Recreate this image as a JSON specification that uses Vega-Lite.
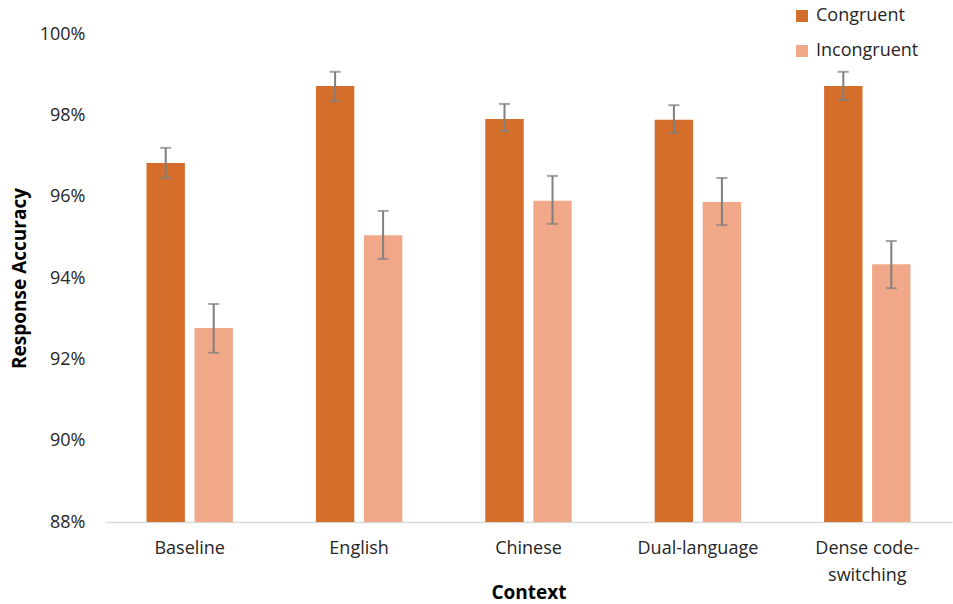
{
  "$schema": "https://vega.github.io/schema/vega-lite/v6.json",
  "width": 847,
  "height": 488,
  "autosize": "none",
  "padding": {"left": 105, "top": 34, "right": 1, "bottom": 82},
  "background": "white",
  "config": {
    "view": {"stroke": null},
    "font": "Open Sans",
    "axis": {"labelFont": "Open Sans", "titleFont": "Open Sans", "labelColor": "#262626", "titleColor": "#000000"}
  },
  "data": {
    "values": [
      {"context": "Baseline", "condition": "Congruent", "acc": 96.83, "lo": 96.46, "hi": 97.2},
      {"context": "Baseline", "condition": "Incongruent", "acc": 92.77, "lo": 92.16, "hi": 93.36},
      {"context": "English", "condition": "Congruent", "acc": 98.72, "lo": 98.35, "hi": 99.07},
      {"context": "English", "condition": "Incongruent", "acc": 95.05, "lo": 94.47, "hi": 95.65},
      {"context": "Chinese", "condition": "Congruent", "acc": 97.91, "lo": 97.61, "hi": 98.28},
      {"context": "Chinese", "condition": "Incongruent", "acc": 95.9, "lo": 95.33, "hi": 96.51},
      {"context": "Dual-language", "condition": "Congruent", "acc": 97.89, "lo": 97.57, "hi": 98.25},
      {"context": "Dual-language", "condition": "Incongruent", "acc": 95.87, "lo": 95.3, "hi": 96.46},
      {"context": "Dense code-switching", "condition": "Congruent", "acc": 98.72, "lo": 98.38, "hi": 99.07},
      {"context": "Dense code-switching", "condition": "Incongruent", "acc": 94.34, "lo": 93.75, "hi": 94.91}
    ]
  },
  "encoding": {
    "x": {
      "field": "context",
      "type": "nominal",
      "sort": null,
      "scale": {"paddingInner": 0.49, "paddingOuter": 0.245},
      "axis": {
        "title": "Context",
        "titleFontSize": 19,
        "titleFontWeight": "bold",
        "titleBaseline": "middle",
        "titleY": 70,
        "labelFontSize": 18,
        "labelAngle": 0,
        "labelPadding": 17,
        "labelLineHeight": 27,
        "labelExpr": "datum.label == 'Dense code-switching' ? ['Dense code-', 'switching'] : datum.label",
        "ticks": false,
        "domainColor": "#d9d9d9",
        "domainWidth": 1.5
      }
    },
    "xOffset": {"field": "condition", "type": "nominal", "scale": {"paddingInner": 0.2, "paddingOuter": 0}}
  },
  "layer": [
    {
      "mark": {"type": "bar"},
      "encoding": {
        "y": {
          "field": "acc",
          "type": "quantitative",
          "scale": {"domain": [88, 100], "zero": false, "nice": false},
          "axis": {
            "title": "Response Accuracy",
            "titleFontSize": 19,
            "titleFontWeight": "bold",
            "titlePadding": 10,
            "labelFontSize": 18,
            "labelPadding": 20,
            "values": [88, 90, 92, 94, 96, 98, 100],
            "labelExpr": "datum.value + '%'",
            "ticks": false,
            "domain": false,
            "grid": false
          }
        },
        "y2": {"datum": 88},
        "color": {
          "field": "condition",
          "type": "nominal",
          "scale": {"domain": ["Congruent", "Incongruent"], "range": ["#D46E2A", "#F1A889"]},
          "legend": {
            "title": null,
            "orient": "none",
            "legendX": 688,
            "legendY": -27,
            "symbolType": "square",
            "symbolSize": 144,
            "symbolStrokeWidth": 0,
            "labelFontSize": 18,
            "labelColor": "#262626",
            "labelOffset": 5,
            "rowPadding": 17
          }
        }
      }
    },
    {
      "mark": {"type": "rule", "color": "#7f7f7f", "strokeWidth": 2},
      "encoding": {
        "y": {"field": "lo", "type": "quantitative"},
        "y2": {"field": "hi"}
      }
    },
    {
      "mark": {"type": "tick", "color": "#7f7f7f", "thickness": 2, "size": 11},
      "encoding": {
        "y": {"field": "lo", "type": "quantitative"}
      }
    },
    {
      "mark": {"type": "tick", "color": "#7f7f7f", "thickness": 2, "size": 11},
      "encoding": {
        "y": {"field": "hi", "type": "quantitative"}
      }
    }
  ]
}
